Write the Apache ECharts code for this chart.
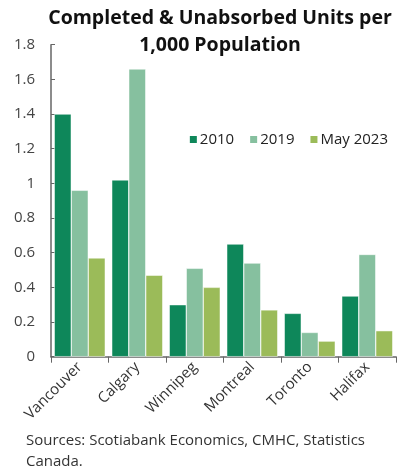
<!DOCTYPE html>
<html><head><meta charset="utf-8">
<script src="https://cdn.jsdelivr.net/npm/echarts@6/dist/echarts.min.js"></script>
<style>html,body{margin:0;padding:0;background:#fff}#c{width:411px;height:472px}</style>
</head><body><div id="c"></div>
<script>
const categories = ['Vancouver','Calgary','Winnipeg','Montreal','Toronto','Halifax'];
const seriesNames = ['2010','2019','May 2023'];
const v2010 = [1.40, 1.02, 0.30, 0.65, 0.25, 0.35];
const v2019 = [0.96, 1.66, 0.51, 0.54, 0.14, 0.59];
const vMay2023 = [0.57, 0.47, 0.40, 0.27, 0.09, 0.15];
const yTicks = [0, 0.2, 0.4, 0.6, 0.8, 1, 1.2, 1.4, 1.6, 1.8];

const colors = ['#0e875a', '#86c09f', '#9bbb59'];
const font = '"Open Sans", Lato, sans-serif';
const chart = echarts.init(document.getElementById('c'));
const mk = (name, data, i) => ({
  name, type: 'bar', data, barWidth: 17, barGap: '0%',
  itemStyle: { color: colors[i], borderColor: '#fff', borderWidth: 0.5 }
});
chart.setOption({
  animation: false,
  textStyle: { fontFamily: font },
  title: {
    text: 'Completed & Unabsorbed Units per\n1,000 Population',
    left: 215, top: 0, textAlign: 'center',
    textStyle: { fontSize: 19.5, fontWeight: 'bold', color: '#111', lineHeight: 27, fontFamily: font }
  },
  legend: {
    data: seriesNames, right: 18, top: 127, itemWidth: 9, itemHeight: 9, itemGap: 14,
    icon: 'rect', textStyle: { fontSize: 15, color: '#222', fontFamily: font, padding: [0, 0, 0, -3] }
  },
  grid: { left: 51, right: 15, top: 44.7, bottom: 115.3, containLabel: false },
  xAxis: {
    type: 'category', data: categories,
    axisLine: { lineStyle: { color: '#666', width: 1.5 } },
    axisTick: { show: true, length: 6, lineStyle: { color: '#666' } },
    axisLabel: { rotate: 45, fontSize: 15, color: '#333', margin: 8, fontFamily: font }
  },
  yAxis: {
    type: 'value', min: 0, max: 1.8, interval: 0.2,
    axisLine: { show: true, lineStyle: { color: '#666', width: 1.5 } },
    axisTick: { show: true, inside: true, length: 4, lineStyle: { color: '#666' } },
    splitLine: { show: false },
    axisLabel: { fontSize: 15, color: '#444', margin: 16, fontFamily: font,
      formatter: v => { const t = yTicks.find(x => Math.abs(x - v) < 1e-9); return t === undefined ? '' : String(t); } }
  },
  series: [mk(seriesNames[0], v2010, 0), mk(seriesNames[1], v2019, 1), mk(seriesNames[2], vMay2023, 2)],
  graphic: [{
    type: 'text', left: 26, top: 430,
    style: { text: 'Sources: Scotiabank Economics, CMHC, Statistics\nCanada.', fontSize: 15, lineHeight: 21, fill: '#333', fontFamily: font }
  }]
});
</script></body></html>
